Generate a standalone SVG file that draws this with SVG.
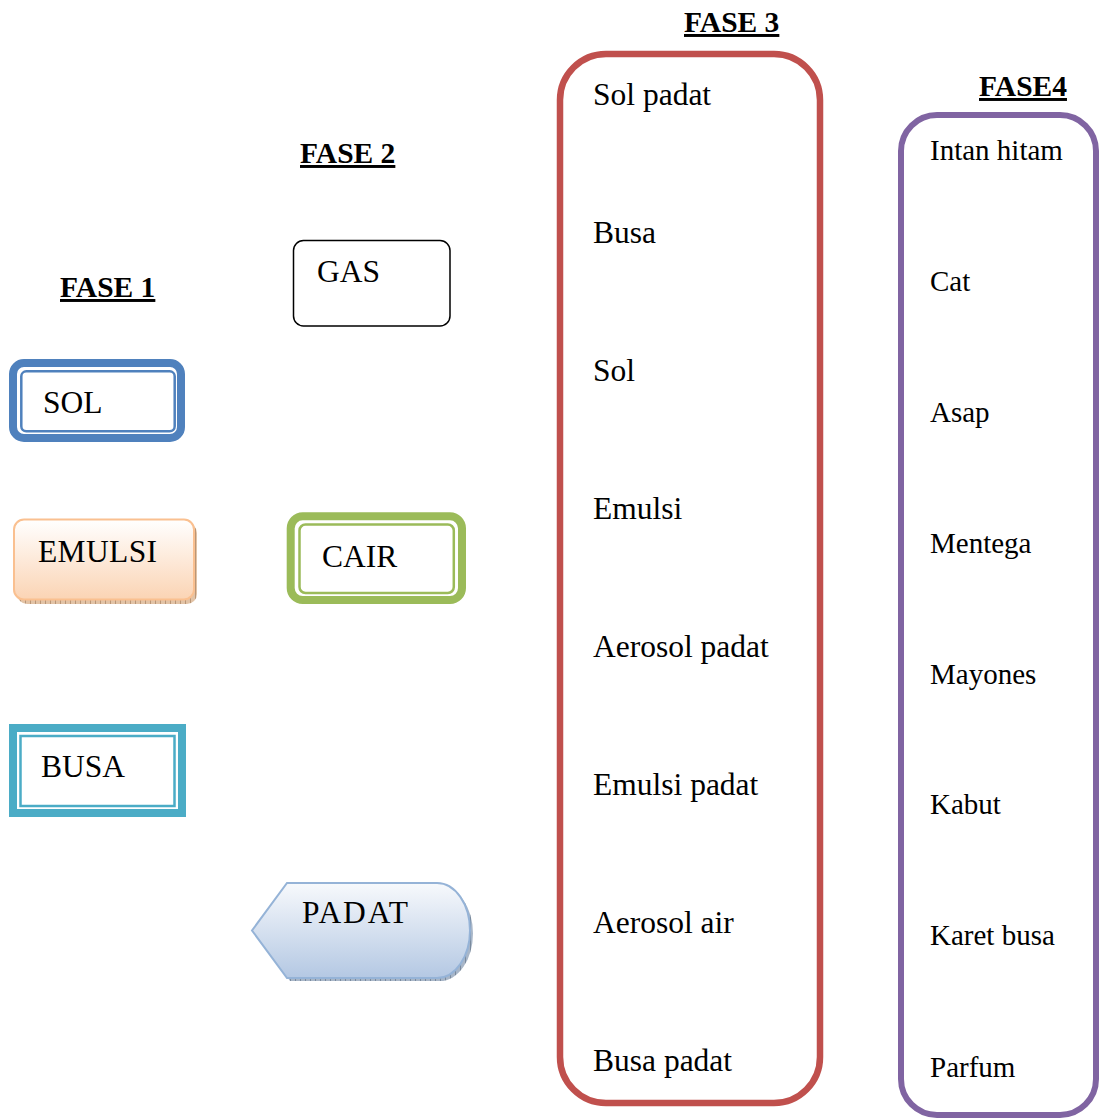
<svg xmlns="http://www.w3.org/2000/svg" width="1099" height="1119" viewBox="0 0 1099 1119">
<style>
text{font-family:"Liberation Serif","Times New Roman",serif;fill:#000}
.hd{font-size:29.5px;font-weight:bold;text-decoration:underline}
.lb{font-size:31.5px}
.l3{font-size:31.5px}
.l4{font-size:29px}
</style>
<defs>
<linearGradient id="gOr" x1="0" y1="0" x2="0" y2="1">
<stop offset="0" stop-color="#FFFFFF"/>
<stop offset="1" stop-color="#FBD4B4"/>
</linearGradient>
<linearGradient id="gBl" x1="0" y1="0" x2="0" y2="1">
<stop offset="0" stop-color="#F7F9FC"/>
<stop offset="1" stop-color="#B4C8E3"/>
</linearGradient>
<pattern id="hatchO" width="5" height="6" patternUnits="userSpaceOnUse">
<rect width="5" height="6" fill="#E2C3A6"/>
<line x1="0.5" y1="0" x2="0.5" y2="6" stroke="#B08A6A" stroke-width="0.8"/>
</pattern>
<pattern id="hatchB" width="5" height="6" patternUnits="userSpaceOnUse">
<rect width="5" height="6" fill="#A8B6C8"/>
<line x1="0.5" y1="0" x2="0.5" y2="6" stroke="#6F7F92" stroke-width="0.8"/>
</pattern>
</defs>
<rect width="1099" height="1119" fill="#fff"/>

<g id="headers">
<text class="hd" x="60" y="297">FASE 1</text>
<text class="hd" x="300" y="163">FASE 2</text>
<text class="hd" x="684" y="32">FASE 3</text>
<text class="hd" x="979" y="96">FASE4</text>
</g>

<g id="connectors"></g>

<g id="node-sol">
<rect x="13" y="363" width="168" height="75" rx="11" fill="#fff" stroke="#4F81BD" stroke-width="8"/>
<rect x="21.3" y="371.3" width="153.4" height="60" rx="5" fill="none" stroke="#4F81BD" stroke-width="2.5"/>
<text class="lb" x="43" y="413">SOL</text>
</g>

<g id="node-emulsi">
<rect x="17" y="523" width="180" height="81" rx="10" fill="url(#hatchO)"/>
<rect x="14" y="519.5" width="180" height="80" rx="10" fill="url(#gOr)" stroke="#FAC090" stroke-width="2"/>
<text class="lb" x="38" y="562" textLength="119">EMULSI</text>
</g>

<g id="node-busa">
<rect x="13" y="728" width="169" height="85" fill="#fff" stroke="#4BACC6" stroke-width="8"/>
<rect x="20.5" y="736" width="154" height="70" fill="none" stroke="#4BACC6" stroke-width="2.5"/>
<text class="lb" x="41" y="777">BUSA</text>
</g>

<g id="node-gas">
<rect x="293.5" y="240.5" width="156.5" height="85.5" rx="10" fill="#fff" stroke="#000" stroke-width="1.5"/>
<text class="lb" x="317" y="282">GAS</text>
</g>

<g id="node-cair">
<rect x="290.7" y="516.3" width="171.3" height="83.7" rx="12" fill="#fff" stroke="#9BBB59" stroke-width="8"/>
<rect x="299.5" y="524.5" width="154.3" height="68.5" rx="6" fill="none" stroke="#9BBB59" stroke-width="2.5"/>
<text class="lb" x="322" y="567">CAIR</text>
</g>

<g id="node-padat">
<path d="M290 886 L440 886 A33 47.5 0 0 1 440 981 L290 981 L255 933 Z" fill="url(#hatchB)"/>
<path d="M287 883 L437 883 A33 47.5 0 0 1 437 978 L287 978 L252 930.5 Z" fill="url(#gBl)" stroke="#95B3D7" stroke-width="2"/>
<text class="lb" x="302" y="923" textLength="106">PADAT</text>
</g>

<g id="node-fase3">
<rect x="560" y="54" width="260" height="1049" rx="46" fill="#fff" stroke="#C0504D" stroke-width="6.5"/>
<text class="l3" x="593" y="105">Sol padat</text>
<text class="l3" x="593" y="243">Busa</text>
<text class="l3" x="593" y="381">Sol</text>
<text class="l3" x="593" y="519">Emulsi</text>
<text class="l3" x="593" y="657">Aerosol padat</text>
<text class="l3" x="593" y="795">Emulsi padat</text>
<text class="l3" x="593" y="933">Aerosol air</text>
<text class="l3" x="593" y="1071">Busa padat</text>
</g>

<g id="node-fase4">
<rect x="901" y="115" width="195" height="1000" rx="36" fill="#fff" stroke="#8064A2" stroke-width="6"/>
<text class="l4" x="930" y="160">Intan hitam</text>
<text class="l4" x="930" y="291">Cat</text>
<text class="l4" x="930" y="422">Asap</text>
<text class="l4" x="930" y="553">Mentega</text>
<text class="l4" x="930" y="684">Mayones</text>
<text class="l4" x="930" y="814">Kabut</text>
<text class="l4" x="930" y="945">Karet busa</text>
<text class="l4" x="930" y="1077">Parfum</text>
</g>
</svg>
